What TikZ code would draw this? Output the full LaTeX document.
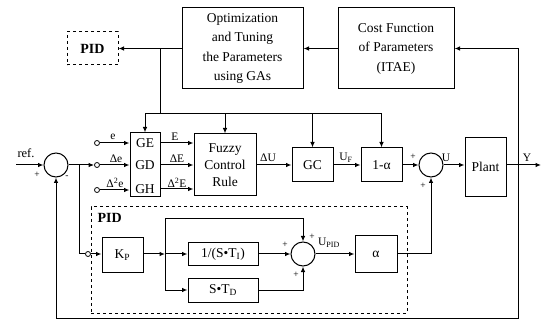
\documentclass[tikz,border=0pt]{standalone}
\usepackage{fontspec}
\setmainfont{Liberation Serif}
\usetikzlibrary{arrows.meta,calc}
\begin{document}
\begin{tikzpicture}[x=1pt,y=-1pt,
  line width=1pt,
  blk/.style={draw, rectangle, inner sep=0pt, font=\fontsize{13.5}{19.5}\selectfont, align=center},
  dblk/.style={blk, dashed},
  sumc/.style={draw, circle, minimum size=24pt, inner sep=0pt},
  port/.style={draw, circle, minimum size=5pt, inner sep=0pt, line width=0.8pt},
  lbl/.style={font=\fontsize{11.5}{12}\selectfont, inner sep=0pt},
  sgn/.style={font=\fontsize{9.5}{10}\selectfont, inner sep=0pt},
  txt/.style={font=\fontsize{13.5}{16}\selectfont, inner sep=0pt},
  ptitle/.style={font=\bfseries\fontsize{14}{16}\selectfont, inner sep=0pt},
  arr/.style={-{Latex[length=5.5pt,width=4.5pt]}},
]
\useasboundingbox (0,0) rectangle (551,320);

% top row
\node[dblk, minimum width=51pt, minimum height=33pt, font=\bfseries\fontsize{14}{16}\selectfont] (pidt) at (92.5,48.5) {PID};
\node[blk, minimum width=121pt, minimum height=81pt] (opt) at (242.5,48.5) {Optimization\\and Tuning\\the Parameters\\using GAs};
\node[blk, minimum width=116pt, minimum height=81pt] (cost) at (396,48.5) {Cost Function\\of Parameters\\(ITAE)};

% main loop
\coordinate (ref) at (16,165);
\node[lbl, font=\fontsize{12.5}{12}\selectfont] (reflbl) at (26,153) {ref.};
\node[sgn] (s1p) at (37,175) {+};
\node[sumc] (s1) at (56,165) {};
\node[sgn] (s1m) at (67,177) {-};

\node[port] (pe) at (97,143) {};
\node[port] (pde) at (97,165) {};
\node[port] (pdde) at (97,190) {};
\node[lbl] (le) at (113,137) {e};
\node[lbl] (lde) at (116,159) {Δe};
\node[lbl] (ldde) at (115,183) {Δ\textsuperscript{2}e};

\node[blk, minimum width=30pt, minimum height=64pt] (g) at (145,165) {};
\node[txt] (ge) at (145,143) {GE};
\node[txt] (gd) at (145,165) {GD};
\node[txt] (gh) at (145,189) {GH};

\node[blk, minimum width=62pt, minimum height=62pt, font=\fontsize{13.5}{17}\selectfont] (fz) at (225,165) {Fuzzy\\Control\\Rule};
\node[lbl] (lE) at (175,137) {E};
\node[lbl] (ldE) at (177,159) {ΔE};
\node[lbl] (lddE) at (177,183) {Δ\textsuperscript{2}E};

\node[blk, minimum width=41pt, minimum height=34pt] (gc) at (312.5,165) {GC};
\node[blk, minimum width=41pt, minimum height=34pt] (oma) at (381.5,165) {1-α};
\node[sumc] (s2) at (431,165) {};
\node[blk, minimum width=41pt, minimum height=59pt] (plant) at (485.5,167) {Plant};
\node[lbl] (ldU) at (268,158) {ΔU};
\node[lbl] (lUF) at (346,158) {U\textsubscript{F}};
\node[lbl] (lU) at (446,158) {U};
\node[lbl] (lY) at (527,158) {Y};
\node[sgn] (s2p) at (413,157) {+};
\node[sgn] (s2q) at (423,186) {+};

\coordinate (yj) at (518,165);
\coordinate (yout) at (541,165);
\coordinate (bot) at (518,318);
\coordinate (tj) at (160,48.5);
\coordinate (hb) at (160,114);
\coordinate (ej) at (79,165);

% PID section
\node[dblk, minimum width=316pt, minimum height=106pt] (pidbox) at (249,260) {};
\node[ptitle, anchor=west] (pidlbl) at (97,218) {PID};
\node[port] (pk) at (88,254) {};
\node[blk, minimum width=41pt, minimum height=35pt] (kp) at (122.5,255) {K\textsubscript{P}};
\coordinate (kj) at (165,254);
\coordinate (kt) at (165,219);
\node[blk, minimum width=70pt, minimum height=23pt] (ti) at (223,254) {1/(S•T\textsubscript{I})};
\node[blk, minimum width=70pt, minimum height=24pt] (td) at (223,290) {S•T\textsubscript{D}};
\node[sumc] (s3) at (303,254) {};
\node[sgn] (s3a) at (285,245) {+};
\node[sgn] (s3b) at (312,237) {+};
\node[sgn] (s3c) at (296,275) {+};
\node[lbl] (lUpid) at (329,243) {U\textsubscript{PID}};
\node[blk, minimum width=42pt, minimum height=36pt] (al) at (376,254) {α};

% connectors top
\draw[arr] (opt.west) -- (pidt.east);
\draw[arr] (cost.west) -- (opt.east);
\draw (tj) -- (hb);
\draw[arr] (hb) -| (g.north);
\draw[arr] (hb) -| (fz.north);
\draw[arr] (hb) -| (gc.north);
\draw[arr] (hb) -| (oma.north);

% connectors main
\draw[arr] (ref) -- (s1.west);
\draw[arr] (s1.east) -- (pde.west);
\draw[arr] (pe.east) -- (pe -| g.west);
\draw[arr] (pde.east) -- (pde -| g.west);
\draw[arr] (pdde.east) -- (pdde -| g.west);
\draw[arr] (g.east |- ge) -- (fz.west |- ge);
\draw[arr] (g.east |- gd) -- (fz.west |- gd);
\draw[arr] (g.east |- gh) -- (fz.west |- gh);
\draw[arr] (fz.east) -- (gc.west);
\draw[arr] (gc.east) -- (oma.west);
\draw[arr] (oma.east) -- (s2.west);
\draw[arr] (s2.east) -- (s2.east -| plant.west);
\draw[arr] (plant.east |- yj) -- (yout);
\draw[arr] (yj) |- (cost.east);
\draw[arr] (yj) -- (bot) -| (s1.south);

% connectors PID
\draw (ej) |- (pk.west);
\draw[arr] (pk.east) -- (pk -| kp.west);
\draw[arr] (kp.east |- kj) -- (kj);
\draw[arr] (kj) -- (ti.west);
\draw[arr] (kj) |- (td.west);
\draw[arr] (kj) -- (kt) -| (s3.north);
\draw[arr] (ti.east) -- (s3.west);
\draw[arr] (td.east) -| (s3.south);
\draw[arr] (s3.east) -- (al.west);
\draw[arr] (al.east) -| (s2.south);
\end{tikzpicture}
\end{document}
